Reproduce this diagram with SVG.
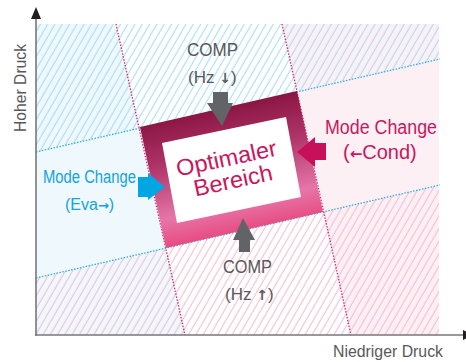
<svg xmlns="http://www.w3.org/2000/svg" width="466" height="362" viewBox="0 0 466 362">
<defs>
<pattern id="hatchBlue" width="6.3" height="6.3" patternUnits="userSpaceOnUse" patternTransform="rotate(30)"><line x1="3" y1="-1" x2="3" y2="7.3" stroke="#a3daf3" stroke-width="1"/></pattern>
<pattern id="hatchPink" width="6.3" height="6.3" patternUnits="userSpaceOnUse" patternTransform="rotate(30)"><line x1="3" y1="-1" x2="3" y2="7.3" stroke="#f5b8cf" stroke-width="1"/></pattern>
<linearGradient id="frame" x1="0.35" y1="0" x2="0.6" y2="1">
<stop offset="0" stop-color="#7a0832"/>
<stop offset="0.4" stop-color="#b0356a"/>
<stop offset="0.72" stop-color="#e676a8"/>
<stop offset="1" stop-color="#e8306a"/>
</linearGradient>
<style>
.t{font-family:"Liberation Sans",Arial,sans-serif}
.ar{font-family:"DejaVu Sans",sans-serif;font-weight:bold}
.gray{fill:#58595b}
.blue{fill:#14a3de}
.crim{fill:#c8175d}
.dotP{stroke:#d8286c;stroke-width:1.3;stroke-dasharray:1.5 1.5;fill:none}
.dotB{stroke:#2aaee4;stroke-width:1.3;stroke-dasharray:1.5 1.5;fill:none}
</style>
</defs>
<g id="background">
<polygon points="36,24 116,24 185,335 36,335" fill="#eef8fd"/>
<polygon points="282,24 439,24 439,335 351,335" fill="#fdf0f5"/>
<polygon points="36,24 439,24 439,59.3 36,152" fill="url(#hatchBlue)"/>
<polygon points="36,278 439,185.3 439,335 36,335" fill="url(#hatchPink)"/>
</g>
<g id="connectors">
<line class="dotP" x1="116" y1="24" x2="185" y2="335"/>
<line class="dotP" x1="282" y1="24" x2="351" y2="335"/>
<line class="dotB" x1="36" y1="152" x2="440" y2="59"/>
<line class="dotB" x1="36" y1="278" x2="440" y2="185"/>
</g>
<g id="axes">
<line x1="36" y1="336" x2="36" y2="17" stroke="#777" stroke-width="1.6"/>
<polygon points="36,7 31,19 41,19" fill="#231f20"/>
<line x1="35" y1="335" x2="463" y2="335" stroke="#777" stroke-width="1.6"/>
<polygon points="463,330 463,340 473,335" fill="#231f20"/>
<text class="t gray" font-size="16" transform="translate(26,88) rotate(-90)" text-anchor="middle" textLength="88" lengthAdjust="spacingAndGlyphs">Hoher Druck</text>
<text class="t gray" x="388" y="357" font-size="16" text-anchor="middle" textLength="110" lengthAdjust="spacingAndGlyphs">Niedriger Druck</text>
</g>
<g id="optimal">
<polygon points="140,127 297,91 323,212 166,248" fill="url(#frame)"/>
<polygon points="162,143 286,117 301,197 177,223" fill="#fff"/>
<g transform="translate(228,166) rotate(-12)">
<text class="t crim" x="0" y="0" font-size="23" text-anchor="middle" textLength="102" lengthAdjust="spacingAndGlyphs">Optimaler</text>
<text class="t crim" x="2" y="23" font-size="23" text-anchor="middle" textLength="80" lengthAdjust="spacingAndGlyphs">Bereich</text>
</g>
</g>
<g id="comp-down">
<polygon points="213,92 228,92 228,103 233,103 222,126 207,103 213,103" fill="#626366"/>
<text class="t gray" x="212.5" y="56" font-size="18" text-anchor="middle" textLength="51" lengthAdjust="spacingAndGlyphs">COMP</text>
<text class="t gray" x="188" y="83" font-size="17">(Hz <tspan class="ar" font-size="14">↓</tspan>)</text>
</g>
<g id="comp-up">
<polygon points="239,252 250,252 250,240 255,240 243,218 233,240 239,240" fill="#626366"/>
<text class="t gray" x="247.5" y="273" font-size="18" text-anchor="middle" textLength="49" lengthAdjust="spacingAndGlyphs">COMP</text>
<text class="t gray" x="225" y="300" font-size="17">(Hz <tspan class="ar" font-size="14">↑</tspan>)</text>
</g>
<g id="mode-eva">
<polygon points="138,177 148,177 148,173 165,187 148,200 148,197 138,197" fill="#00a6e2"/>
<text class="t blue" x="89.5" y="183" font-size="18" text-anchor="middle" textLength="93" lengthAdjust="spacingAndGlyphs">Mode Change</text>
<text class="t blue" x="65" y="210" font-size="16">(Eva<tspan class="ar" font-size="13">→</tspan>)</text>
</g>
<g id="mode-cond">
<polygon points="326,143 315,143 315,137 297,152 315,167 315,160 326,160" fill="#c8105a"/>
<text class="t crim" x="381" y="134" font-size="20" text-anchor="middle" textLength="112" lengthAdjust="spacingAndGlyphs">Mode Change</text>
<text class="t crim" x="343" y="159" font-size="20">(<tspan class="ar" font-size="15">←</tspan>Cond)</text>
</g>
</svg>
